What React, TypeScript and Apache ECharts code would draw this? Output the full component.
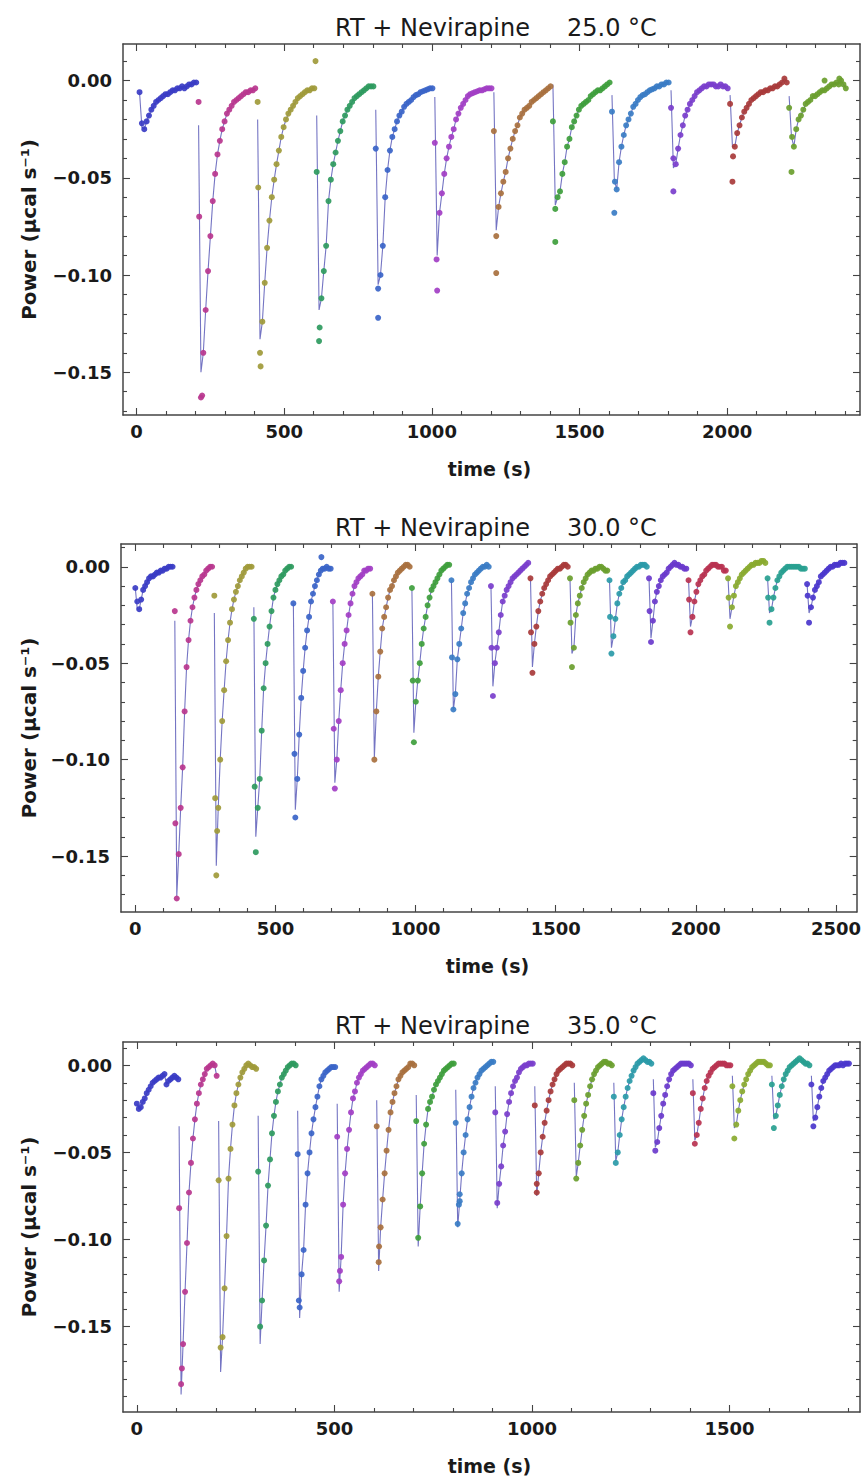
import React, { useEffect, useRef } from "react";
import * as echarts from "echarts";

// Segment colours (one per injection, same cycle in every panel)
const segColors = [
  "#3a3cc4", "#b8368e", "#a09a3a", "#2e9a5e", "#3a64c8", "#a23ec4",
  "#a8703e", "#3e9e3c", "#3a7cc4", "#7a3ecc", "#a83a3a", "#6a9e2e",
  "#2a9aa8", "#6a3acc", "#b83250", "#8aaa30", "#28a090", "#4a36cc",
];

// ---------- Panel 25.0 °C (power values in 10^-3 µcal s^-1) ----------
const start25 = [10, 210, 410, 610, 810, 1010, 1210, 1410, 1610, 1810, 2010, 2210];
const step25 = 8;
const fitTop25 = [-6, -23, -20, -18, -15, -8.5, -6, -2, -7.5, -5, -7.5, -8];
const fitMin25 = [-24, -150, -133, -118, -105, -90, -77, -64, -51, -45, -34, -29];
const power25 = [
  [-6, -22, -25, -21, -18, -15, -13, -11, -10, -9, -8, -7, -7, -6, -5, -5, -4, -4, -3, -4, -3, -2, -2, -1, -1],
  [-11, -163, -140, -118, -98, -80, -62, -48, -38, -31, -25, -21, -17, -15, -13, -11, -10, -9, -8, -7, -6, -6, -5, -5, -4],
  [-11, -140, -124, -104, -86, -72, -60, -51, -43, -36, -29, -24, -20, -17, -15, -13, -11, -9, -8, -7, -6, -5, -5, -4, -4],
  [-47, -134, -112, -98, -85, -62, -51, -43, -37, -31, -26, -21, -18, -15, -13, -11, -9, -8, -7, -6, -5, -4, -3, -3, -3],
  [-35, -122, -100, -85, -60, -46, -36, -29, -25, -21, -18, -16, -13.5, -12, -11, -10, -8.5, -7.5, -7, -6, -5.5, -5, -4.5, -4, -4],
  [-32, -108, -68, -58, -48, -40, -34, -29, -25, -20, -17, -14, -12, -10, -8, -7, -6.5, -6, -5.5, -5, -5, -4.5, -4, -4, -4],
  [-26, -99, -65, -58, -52, -47, -40, -35, -30, -26, -23, -19, -17, -15, -14, -13, -11, -10, -9, -8, -7, -6, -5, -4, -3],
  [-21, -83, -60, -57, -48, -42, -34, -30, -24, -21, -18, -15, -13, -12, -11, -10, -8, -7, -6, -5, -5, -4, -3, -2, -1],
  [-16, -68, -56, -42, -34, -28, -23, -20, -17, -13.5, -12, -10, -8.5, -7.5, -7, -6, -5, -4.5, -4, -3, -3, -2, -2, -1, -1],
  [-14, -57, -43, -35, -28, -23, -18, -15, -12, -10, -8, -6, -5, -4, -3, -3, -2, -2, -2, -3, -3, -2, -3, -3, -4],
  [-12, -52, -34, -27, -23, -19, -16, -14, -12, -10, -9, -8, -7, -6, -6, -5, -5, -4, -4, -3, -3, -2, -1, 1, -1],
  [-14, -47, -34, -25, -20, -18, -15, -12, -11, -10, -8, -8, -7, -6, -5, -5, -4, -3, -2, -2, -1, -2, 0, -2, -4],
];
// extra points: [time, power(10^-3), segment]
const extra25 = [
  [212, -70, 1], [222, -162, 1], [412, -55, 2], [420, -147, 2], [606, 10, 2], [620, -127, 3],
  [818, -107, 4], [1016, -92, 5], [1218, -80, 6], [1418, -66, 7], [1620, -52, 8], [1818, -40, 9],
  [2020, -39, 10], [2220, -29, 11], [2330, 0, 11], [2380, 1, 11],
];
const xMajor25 = [0, 500, 1000, 1500, 2000];
const xMinor25 = [100, 200, 300, 400, 600, 700, 800, 900, 1100, 1200, 1300, 1400, 1600, 1700, 1800, 1900, 2100, 2200, 2300, 2400];
const yMajor25 = [0, -0.05, -0.1, -0.15];
const yMinor25 = [0.01, -0.01, -0.02, -0.03, -0.04, -0.06, -0.07, -0.08, -0.09, -0.11, -0.12, -0.13, -0.14, -0.16, -0.17];

// ---------- Panel 30.0 °C ----------
const start30 = [0, 141, 282, 423, 564, 705, 846, 987, 1128, 1269, 1410, 1551, 1692, 1833, 1974, 2115, 2256, 2397];
const step30 = 7;
const fitTop30 = [-11, -28, -24, -21, -19, -19, -14, -12, -7, -10, -6, -6, -7, -6, -7, -6, -6, -9];
const fitMin30 = [-22, -171, -155, -140, -126, -112, -99, -86, -74, -62, -52, -45, -42, -37, -31, -27, -24, -24];
const power30 = [
  [-11, -18, -22, -17, -12, -10, -8, -6, -5, -5, -4, -3, -3, -2, -2, -1, -1, 0, 0, 0],
  [-23, -172, -149, -125, -104, -75, -52, -38, -28, -21, -16, -12, -9, -7, -5, -4, -2, -1, 0, 0],
  [-15, -160, -125, -100, -80, -64, -49, -38, -29, -22, -17, -13, -10, -7, -5, -3, -1, 0, 0, 0],
  [-27, -148, -125, -110, -85, -63, -50, -40, -31, -23, -16, -12, -9, -7, -5, -4, -2, -1, 0, 0],
  [-19, -130, -110, -87, -68, -54, -42, -33, -26, -18, -14, -10, -7, -4, -2, -1, -1, 0, -1, -1],
  [-18, -115, -100, -80, -64, -50, -40, -33, -25, -19, -14, -10, -8, -6, -5, -4, -2, -2, -1, -1],
  [-14, -100, -75, -57, -44, -32, -26, -21, -16, -12, -10, -7, -5, -3, -2, -1, 0, 1, 1, 0],
  [-11, -91, -70, -59, -50, -40, -32, -26, -20, -16, -12, -10, -8, -6, -4, -2, -1, 0, 1, 1],
  [-7, -74, -66, -48, -40, -32, -24, -19, -14, -11, -8, -6, -4, -3, -2, -1, 0, 0, 1, 0],
  [-10, -67, -50, -42, -34, -25, -18, -15, -12, -10, -8, -6, -5, -4, -3, -2, -1, 0, 1, 2],
  [-6, -55, -40, -31, -23, -18, -14, -11, -9, -7, -5, -4, -3, -2, -1, -1, 0, 1, 1, 0],
  [-6, -52, -42, -25, -19, -15, -11, -8, -6, -4, -3, -2, -2, -1, -1, 0, 0, -1, -2, -2],
  [-7, -45, -36, -27, -19, -14, -11, -8, -7, -5, -4, -3, -2, -1, 0, 0, 1, 1, 1, 0],
  [-6, -39, -28, -18, -13, -10, -7, -5, -4, -3, -1, 0, 1, 2, 1, 1, 0, 0, -1, -1],
  [-7, -34, -26, -18, -13, -9, -7, -5, -4, -2, -1, 0, 1, 1, 1, 0, 0, 0, -2, -2],
  [-6, -31, -21, -15, -10, -8, -6, -4, -3, -2, -1, 0, 1, 1, 2, 2, 2, 3, 3, 2],
  [-6, -29, -22, -16, -11, -7, -5, -3, -2, -1, 0, 0, 0, 0, 0, 0, 0, -1, -1, -1],
  [-9, -29, -21, -16, -12, -10, -8, -5, -4, -3, -2, -1, 0, 0, 1, 1, 1, 2, 2, 2],
];
const extra30 = [
  [143, -133, 1], [285, -120, 2], [292, -137, 2], [426, -114, 3], [568, -97, 4], [664, 5, 4],
  [708, -84, 5], [990, -59, 7], [1130, -47, 8], [1271, -42, 9], [1412, -34, 10], [1553, -29, 11],
  [1694, -26, 12], [1835, -23, 13], [1976, -17, 14], [2117, -16, 15], [2258, -16, 16], [2399, -15, 17],
];
const xMajor30 = [0, 500, 1000, 1500, 2000, 2500];
const xMinor30 = [100, 200, 300, 400, 600, 700, 800, 900, 1100, 1200, 1300, 1400, 1600, 1700, 1800, 1900, 2100, 2200, 2300, 2400];
const yMajor30 = [0, -0.05, -0.1, -0.15];
const yMinor30 = [0.01, -0.01, -0.02, -0.03, -0.04, -0.06, -0.07, -0.08, -0.09, -0.11, -0.12, -0.13, -0.14, -0.16, -0.17];

// ---------- Panel 35.0 °C ----------
const start35 = [0, 107, 207, 307, 407, 507, 607, 707, 807, 907, 1007, 1107, 1207, 1307, 1407, 1507, 1607, 1707];
const step35 = 5;
const fitTop35 = [-22, -35, -32, -29, -26, -22, -20, -17, -14, -12, -12, -10, -10, -8, -8, -6, -6, -6];
const fitMin35 = [-25, -189, -176, -160, -145, -130, -118, -104, -93, -82, -75, -64, -55, -47, -43, -36, -31, -32];
const power35 = [
  [-22, -25, -24, -21, -19, -16, -14, -12, -10, -9, -8, -7, -7, -6, -5, -11, -9, -8, -7, -6, -7, -8],
  [-82, -183, -160, -130, -102, -73, -56, -42, -31, -22, -16, -11, -8, -5, -2, -1, 0, 1, 0, -6],
  [-66, -162, -156, -128, -98, -65, -48, -34, -23, -16, -11, -7, -4, -2, 0, 1, 0, -1, -1, -2],
  [-61, -150, -135, -112, -92, -69, -54, -39, -29, -21, -15, -11, -7, -5, -3, -1, 0, 1, 1, 0],
  [-51, -139, -120, -106, -80, -62, -50, -39, -31, -24, -18, -12, -8, -6, -4, -3, -2, -1, -1, -1],
  [-41, -124, -110, -80, -62, -48, -37, -27, -19, -15, -10, -7, -5, -3, -2, -1, 0, 1, 1, 0],
  [-35, -113, -93, -77, -62, -49, -37, -27, -21, -16, -12, -8, -6, -4, -3, -2, -1, 1, 1, 0],
  [-32, -99, -81, -62, -45, -34, -25, -21, -18, -14, -11, -9, -7, -5, -3, -2, -1, 0, 1, 1],
  [-33, -91, -78, -62, -50, -40, -31, -24, -18, -13, -10, -7, -5, -3, -2, -1, 0, 1, 2, 2],
  [-27, -79, -68, -58, -46, -38, -28, -21, -16, -12, -9, -7, -4, -2, -1, 0, 0, 1, 1, 1],
  [-23, -73, -62, -50, -41, -33, -26, -20, -15, -11, -8, -5, -3, -2, -1, 0, 1, 1, 1, 0],
  [-20, -65, -56, -46, -37, -29, -22, -17, -12, -8, -5, -3, -1, 0, 1, 2, 2, 1, 1, 0],
  [-18, -56, -50, -40, -31, -24, -18, -13, -9, -6, -3, -1, 1, 2, 3, 4, 3, 2, 2, 1],
  [-16, -49, -44, -36, -29, -22, -17, -12, -8, -5, -3, -2, -1, 0, 1, 1, 1, 1, 1, 0],
  [-16, -45, -40, -33, -25, -19, -13, -9, -6, -4, -2, -1, 0, 1, 1, 1, 1, 0, 0, 0],
  [-12, -42, -34, -26, -20, -15, -11, -8, -5, -3, -1, 0, 1, 2, 2, 2, 2, 1, 0, 0],
  [-11, -36, -29, -23, -17, -12, -8, -5, -3, -1, 0, 1, 2, 3, 4, 3, 2, 1, 1, 0],
  [-11, -35, -30, -24, -18, -13, -9, -7, -5, -3, -2, -1, 0, 0, 0, 1, 0, 1, 1, 1],
];
const extra35 = [
  [114, -174, 1], [410, -135, 4], [514, -118, 5], [613, -104, 6], [815, -80, 8], [817, -74, 8], [1012, -68, 10],
];
const xMajor35 = [0, 500, 1000, 1500];
const xMinor35 = [100, 200, 300, 400, 600, 700, 800, 900, 1100, 1200, 1300, 1400, 1600, 1700, 1800];
const yMajor35 = [0, -0.05, -0.1, -0.15];
const yMinor35 = [0.01, -0.01, -0.02, -0.03, -0.04, -0.06, -0.07, -0.08, -0.09, -0.11, -0.12, -0.13, -0.14, -0.16, -0.17, -0.18, -0.19];

const titles = ["25.0 °C", "30.0 °C", "35.0 °C"];

const panels = [
  { start: start25, step: step25, fitTop: fitTop25, fitMin: fitMin25, power: power25, extra: extra25,
    xMajor: xMajor25, xMinor: xMinor25, yMajor: yMajor25, yMinor: yMinor25,
    xMin: -46, xMax: 2450, yMin: -0.172, yMax: 0.0188,
    box: { left: 123, top: 44, width: 737, height: 371 } },
  { start: start30, step: step30, fitTop: fitTop30, fitMin: fitMin30, power: power30, extra: extra30,
    xMajor: xMajor30, xMinor: xMinor30, yMajor: yMajor30, yMinor: yMinor30,
    xMin: -51, xMax: 2574, yMin: -0.179, yMax: 0.0118,
    box: { left: 121, top: 544, width: 737, height: 368 } },
  { start: start35, step: step35, fitTop: fitTop35, fitMin: fitMin35, power: power35, extra: extra35,
    xMajor: xMajor35, xMinor: xMinor35, yMajor: yMajor35, yMinor: yMinor35,
    xMin: -35, xMax: 1830, yMin: -0.199, yMax: 0.0134,
    box: { left: 123, top: 1042, width: 737, height: 370 } },
];

const FRAME = "#444444";
const LABEL_FONT = "'DejaVu Sans', sans-serif";

function fmtY(v: number) {
  if (Math.abs(v) < 1e-9) return "0.00";
  return (v < 0 ? "\u2212" : "") + Math.abs(v).toFixed(2);
}

function buildOption() {
  const grid: any[] = [];
  const xAxis: any[] = [];
  const yAxis: any[] = [];
  const series: any[] = [];
  const graphic: any[] = [];

  panels.forEach((p, pi) => {
    grid.push({ ...p.box, containLabel: false, show: false });
    const xb = xAxis.length;
    const yb = yAxis.length;
    const mkX = (position: string, major: boolean, labels: boolean) => ({
      gridIndex: pi, type: "value", position, min: p.xMin, max: p.xMax,
      axisLine: { show: major, onZero: false, lineStyle: { color: FRAME, width: 1.5 } },
      axisTick: { show: true, inside: true, length: major ? 7 : 4, customValues: major ? p.xMajor : p.xMinor,
        lineStyle: { color: FRAME, width: 1.1 } },
      axisLabel: { show: labels, customValues: p.xMajor, margin: 7, color: "#1a1a1a",
        fontFamily: LABEL_FONT, fontWeight: "bold", fontSize: 18, formatter: (v: number) => String(Math.round(v)) },
      splitLine: { show: false },
    });
    const mkY = (position: string, major: boolean, labels: boolean) => ({
      gridIndex: pi, type: "value", position, min: p.yMin, max: p.yMax,
      axisLine: { show: major, onZero: false, lineStyle: { color: FRAME, width: 1.5 } },
      axisTick: { show: true, inside: true, length: major ? 7 : 4, customValues: major ? p.yMajor : p.yMinor,
        lineStyle: { color: FRAME, width: 1.1 } },
      axisLabel: { show: labels, customValues: p.yMajor, margin: 11, color: "#1a1a1a",
        fontFamily: LABEL_FONT, fontWeight: "bold", fontSize: 18, formatter: fmtY },
      splitLine: { show: false },
    });
    xAxis.push(mkX("bottom", true, true), mkX("bottom", false, false), mkX("top", true, false), mkX("top", false, false));
    yAxis.push(mkY("left", true, true), mkY("left", false, false), mkY("right", true, false), mkY("right", false, false));

    p.power.forEach((vals, k) => {
      const t0 = p.start[k];
      const color = segColors[k % segColors.length];
      // fitted curve
      const lineData: number[][] = [[t0, p.fitTop[k] / 1000], [t0 + p.step, p.fitMin[k] / 1000]];
      vals.slice(2).forEach((v, i) => lineData.push([t0 + (i + 2) * p.step, v / 1000]));
      series.push({
        type: "line", xAxisIndex: xb, yAxisIndex: yb, data: lineData, symbol: "none",
        lineStyle: { color: "#5c5cb8", width: 1.1, opacity: 0.85 }, z: 2, silent: true,
      });
      // measured points
      const dots: number[][] = vals.map((v, i) => [t0 + i * p.step, v / 1000]);
      p.extra.forEach((e) => { if (e[2] === k) dots.push([e[0], e[1] / 1000]); });
      series.push({
        type: "scatter", xAxisIndex: xb, yAxisIndex: yb, data: dots, symbol: "circle", symbolSize: 6,
        itemStyle: { color, opacity: 0.92 }, z: 3, silent: true,
      });
    });

    const b = p.box;
    const cx = b.left + b.width / 2 - 2;
    graphic.push(
      { type: "text", x: 530, y: b.top - 16,
        style: { text: "RT + Nevirapine", fill: "#1a1a1a", fontFamily: LABEL_FONT, fontSize: 24,
          align: "right", verticalAlign: "middle", textAlign: "right", textVerticalAlign: "middle" } },
      { type: "text", x: 567, y: b.top - 16,
        style: { text: titles[pi], fill: "#1a1a1a", fontFamily: LABEL_FONT, fontSize: 24,
          align: "left", verticalAlign: "middle", textAlign: "left", textVerticalAlign: "middle" } },
      { type: "text", x: cx, y: b.top + b.height + 54,
        style: { text: "time (s)", fill: "#1a1a1a", fontFamily: LABEL_FONT, fontWeight: "bold", fontSize: 19,
          align: "center", verticalAlign: "middle", textAlign: "center", textVerticalAlign: "middle" } },
      { type: "text", x: 29, y: b.top + b.height / 2, rotation: Math.PI / 2,
        style: { text: "Power (\u00b5cal s\u207b\u00b9)", fill: "#1a1a1a", fontFamily: LABEL_FONT, fontWeight: "bold", fontSize: 20,
          align: "center", verticalAlign: "middle", textAlign: "center", textVerticalAlign: "middle" } },
    );
  });

  return { animation: false, backgroundColor: "#ffffff", grid, xAxis, yAxis, series, graphic };
}

export default function App() {
  const ref = useRef<HTMLDivElement>(null);
  useEffect(() => {
    if (!ref.current) return;
    const chart = echarts.init(ref.current, undefined, { renderer: "svg" });
    chart.setOption(buildOption() as any);
    return () => chart.dispose();
  }, []);
  return (
    <div
      ref={ref}
      style={{ position: "absolute", left: 0, top: 0, width: 864, height: 1478, background: "#fff" }}
    />
  );
}
